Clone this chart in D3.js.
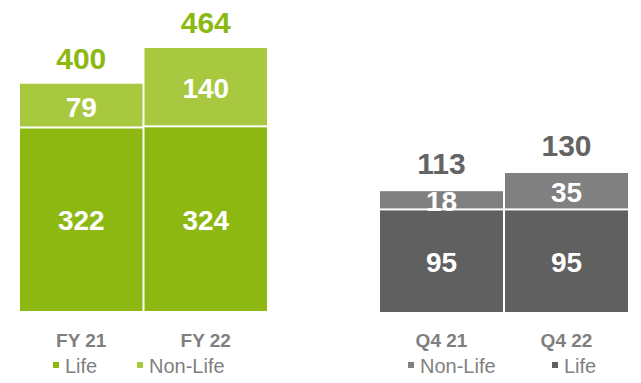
<!DOCTYPE html>
<html>
<head>
<meta charset="utf-8">
<script src="https://cdn.jsdelivr.net/npm/d3@7"></script>
<style>
  body { margin: 0; background: #fff; }
  svg text { font-family: "Liberation Sans", Arial, sans-serif; }
</style>
</head>
<body>
<svg id="chart" width="641" height="383"></svg>
<script>
// values
var fyCats = ["FY 21", "FY 22"];
var fyLife = [322, 324];
var fyNonLife = [79, 140];
var fyTotal = [400, 464];

var q4Cats = ["Q4 21", "Q4 22"];
var q4Life = [95, 95];
var q4NonLife = [18, 35];
var q4Total = [113, 130];

var svg = d3.select("#chart");

function drawGroup(opt){
  var x = d3.scaleBand().domain(opt.cats).range(opt.xRange).padding(0);
  var y = d3.scaleLinear().domain([0, d3.max(opt.total)]).range(opt.yRange);
  var rows = opt.cats.map(function(c, i){
    return {cat: c, life: opt.life[i], nonLife: opt.nonLife[i], total: opt.total[i]};
  });
  var stack = d3.stack().keys(["life", "nonLife"])(rows);
  var colors = {life: opt.lifeColor, nonLife: opt.nonLifeColor};
  var g = svg.append("g");

  stack.forEach(function(layer){
    g.selectAll(null).data(layer).enter().append("rect")
      .attr("x", function(d){ return x(d.data.cat) + 1; })
      .attr("width", x.bandwidth() - 2)
      .attr("y", function(d){ return y(d[1]); })
      .attr("height", function(d){ return y(d[0]) - y(d[1]) - (layer.key === "nonLife" ? 2 : 0); })
      .attr("fill", colors[layer.key]);

    g.selectAll(null).data(layer).enter().append("text")
      .attr("x", function(d){ return x(d.data.cat) + x.bandwidth()/2; })
      .attr("y", function(d){ return (y(d[0]) + y(d[1]))/2; })
      .attr("dy", "0.38em")
      .attr("text-anchor", "middle")
      .attr("fill", "#fff")
      .attr("font-weight", "bold")
      .attr("font-size", 28)
      .text(function(d){ return d.data[layer.key]; });
  });

  // totals above the stacks
  g.selectAll(null).data(rows).enter().append("text")
    .attr("x", function(d){ return x(d.cat) + x.bandwidth()/2; })
    .attr("y", function(d){ return y(d.total) - opt.totalGap; })
    .attr("text-anchor", "middle")
    .attr("fill", opt.totalColor)
    .attr("font-weight", "bold")
    .attr("font-size", 30)
    .text(function(d){ return d.total; });

  g.selectAll(null).data(rows).enter().append("text")
    .attr("x", function(d){ return x(d.cat) + x.bandwidth()/2; })
    .attr("y", 347)
    .attr("text-anchor", "middle")
    .attr("fill", "#7f7f7f")
    .attr("font-weight", "bold")
    .attr("font-size", 19)
    .text(function(d){ return d.cat; });

  var leg = g.selectAll(null).data(opt.legend).enter().append("g")
    .attr("transform", function(d){ return "translate(" + d.x + ",0)"; });
  leg.append("rect")
    .attr("x", 0).attr("y", 362).attr("width", 6).attr("height", 6)
    .attr("fill", function(d){ return colors[d.key]; });
  leg.append("text")
    .attr("x", 12).attr("y", 373)
    .attr("fill", "#7f7f7f")
    .attr("font-size", 20)
    .text(function(d){ return d.label; });
}

drawGroup({
  cats: fyCats, life: fyLife, nonLife: fyNonLife, total: fyTotal,
  xRange: [19, 268], yRange: [311, 48], totalGap: 15,
  lifeColor: "#8cb811", nonLifeColor: "#a8c93f", totalColor: "#8cb811",
  legend: [{key: "life", label: "Life", x: 53}, {key: "nonLife", label: "Non-Life", x: 137}]
});

drawGroup({
  cats: q4Cats, life: q4Life, nonLife: q4NonLife, total: q4Total,
  xRange: [379, 629], yRange: [312, 173], totalGap: 17,
  lifeColor: "#606060", nonLifeColor: "#808080", totalColor: "#646464",
  legend: [{key: "nonLife", label: "Non-Life", x: 408}, {key: "life", label: "Life", x: 552}]
});
</script>
</body>
</html>
